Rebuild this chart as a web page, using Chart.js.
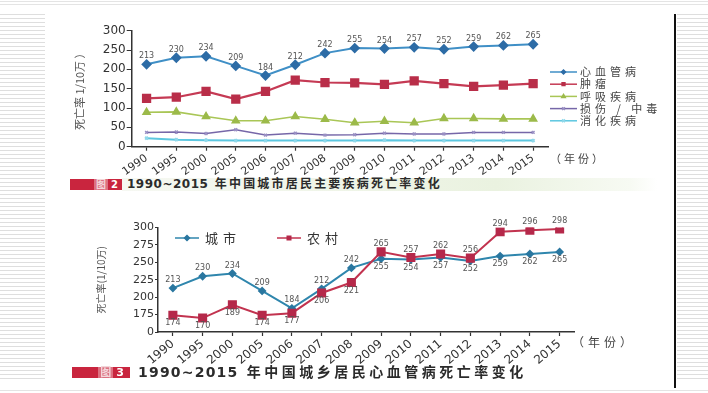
<!DOCTYPE html>
<html>
<head>
<meta charset="utf-8">
<script src="https://cdn.jsdelivr.net/npm/chart.js@4.4.1/dist/chart.umd.min.js"></script>
<style>
html, body { margin: 0; padding: 0; background: #fff; }
body { width: 708px; height: 393px; position: relative; overflow: hidden;
       font-family: "DejaVu Sans", "Noto Sans CJK SC", sans-serif; }
.stripes { position: absolute;
    background: repeating-linear-gradient(to bottom, #dedede 0, #dedede 1px, #fff 1px, #fff 4px); }
.hline { position: absolute; left: 0; width: 708px; height: 1px; background: #e4e4e4; }
.vline { position: absolute; left: 674px; top: 14px; width: 2px; height: 374px; background: #111; }
.box { position: absolute; }
.tag { position: absolute; background: #c9253e; color: #fff; font-weight: bold;
       text-align: right; box-sizing: border-box; }
.tag span.fig { background: rgba(255,255,255,0.35); color: #f3d6da; padding: 0 2px; margin-right: 3px; }
.cap { position: absolute; color: #2b2b2b; font-weight: bold; white-space: nowrap; }
.cap .num { letter-spacing: 0.5px; }
.unit { position: absolute; color: #444; white-space: nowrap; }
</style>
</head>
<body>
<div class="hline" style="top:1px"></div>
<div class="hline" style="top:4px"></div>
<div class="hline" style="top:390px"></div>
<div class="stripes" style="left:0;top:14px;width:45px;height:368px"></div>
<div class="stripes" style="left:677px;top:14px;width:31px;height:368px"></div>
<div class="vline"></div>

<div class="box" style="left:50px;top:20px"><canvas id="topChart" width="620" height="155"></canvas></div>
<div class="box" style="left:50px;top:212px"><canvas id="bottomChart" width="620" height="155"></canvas></div>

<div class="unit" style="left:550px;top:150px;font-size:11px;letter-spacing:3px">（年份）</div>
<div class="unit" style="left:572px;top:333px;font-size:12px;letter-spacing:4px">（年份）</div>

<div class="box" style="left:122px;top:178px;width:535px;height:13px;
     background:linear-gradient(to right,#f6f8f2,#eaf2e0 70%,#f7faf3 95%,#fff)"></div>
<div class="tag" style="left:70px;top:179px;width:52px;height:11px;font-size:10px;line-height:11px;padding-right:4px">
  <span class="fig">图</span>2</div>
<div class="cap" style="left:127px;top:177px;font-size:12px;line-height:15px;letter-spacing:2.2px">
  <span class="num">1990~2015</span> 年中国城市居民主要疾病死亡率变化</div>

<div class="tag" style="left:72px;top:367px;width:58px;height:11px;font-size:11px;line-height:11px;padding-right:6px">
  <span class="fig">图</span>3</div>
<div class="cap" style="left:138px;top:364px;font-size:14px;line-height:17px;letter-spacing:3.5px">
  <span class="num" style="letter-spacing:1.2px">1990~2015</span> 年中国城乡居民心血管病死亡率变化</div>

<script>
const years = ['1990', '1995', '2000', '2005', '2006', '2007', '2008', '2009', '2010', '2011', '2012', '2013', '2014', '2015'];

// fig 2: urban residents, main causes of death (per 100k)
const cardio = [213, 230, 234, 209, 184, 212, 242, 255, 254, 257, 252, 259, 262, 265];
const tumor = [125, 128, 143, 123, 143, 172, 166, 165, 161, 170, 163, 156, 159, 163];
const respiratory = [89, 90, 78, 67, 67, 78, 71, 62, 66, 62, 73, 73, 72, 72];
const injury = [37, 38, 34, 44, 30, 35, 30, 31, 35, 33, 33, 37, 37, 37];
const digestive = [22, 18, 17, 16, 16, 16, 16, 16, 17, 16, 16, 16, 16, 16];
const topTicks = [0, 50, 100, 150, 200, 250, 300];

// fig 3: cardiovascular death rate, urban vs rural
const urbanCardio = [213, 230, 234, 209, 184, 212, 242, 255, 254, 257, 252, 259, 262, 265];
const ruralCardio = [174, 170, 189, 174, 177, 206, 221, 265, 257, 262, 256, 294, 296, 298];
const bottomTicks = [150, 175, 200, 225, 250, 275, 300];

const numFont = '"DejaVu Sans", "Liberation Sans", sans-serif';
const cjkFont = '"Noto Sans CJK SC", "DejaVu Sans", sans-serif';

const pointLabels = {
    id: 'pointLabels',
    afterDatasetsDraw(chart, args, opts) {
        const { ctx } = chart;
        ctx.save();
        ctx.font = opts.font;
        ctx.fillStyle = opts.color;
        ctx.textAlign = 'center';
        opts.datasets.forEach((di) => {
            const values = chart.data.datasets[di].data;
            chart.getDatasetMeta(di).data.forEach((pt, i) => {
                let above = true;
                if (opts.compare) {
                    const other = chart.data.datasets[1 - di].data[i];
                    above = values[i] >= other;
                }
                ctx.textBaseline = above ? 'bottom' : 'top';
                ctx.fillText(String(values[i]), pt.x, above ? pt.y - opts.gap : pt.y + opts.gap);
            });
        });
        ctx.restore();
    },
};

const lineLegend = {
    id: 'lineLegend',
    afterDraw(chart, args, opts) {
        const { ctx } = chart;
        ctx.save();
        ctx.font = opts.font;
        ctx.letterSpacing = opts.letterSpacing;
        ctx.textBaseline = 'middle';
        chart.data.datasets.forEach((ds, i) => {
            const x = opts.x + (opts.dx || 0) * i;
            const y = opts.y + (opts.dy || 0) * i;
            ctx.strokeStyle = ds.borderColor;
            ctx.lineWidth = 1.5;
            ctx.beginPath();
            ctx.moveTo(x, y);
            ctx.lineTo(x + opts.lineLength, y);
            ctx.stroke();
            ctx.fillStyle = ds.pointBackgroundColor || ds.borderColor;
            ctx.strokeStyle = ds.pointBorderColor || ds.borderColor;
            Chart.helpers.drawPoint(ctx, {
                pointStyle: ds.pointStyle,
                radius: opts.markerRadius,
                rotation: 0,
                borderWidth: 1,
            }, x + opts.lineLength / 2, y);
            ctx.fillStyle = opts.color;
            ctx.fillText(ds.label, x + opts.lineLength + opts.textGap, y);
        });
        ctx.restore();
    },
};

function xScale(fontSize, rotation) {
    return {
        offset: true,
        border: { display: true, color: '#333', width: 1.5 },
        grid: { display: true, drawOnChartArea: false, offset: false, tickLength: 4, color: '#333', tickWidth: 1.2 },
        ticks: {
            autoSkip: false,
            minRotation: rotation,
            maxRotation: rotation,
            padding: 1,
            color: '#333',
            font: { family: numFont, size: fontSize },
        },
    };
}

new Chart(document.getElementById('topChart'), {
    type: 'line',
    data: {
        labels: years,
        datasets: [
            { label: '心血管病', data: cardio, borderColor: '#3f8fc6', pointBackgroundColor: '#2d6ca6',
              pointBorderColor: '#2d6ca6', pointStyle: 'rectRot', pointRadius: 4, borderWidth: 2 },
            { label: '肿瘤', data: tumor, borderColor: '#c53a54', pointBackgroundColor: '#b92e49',
              pointBorderColor: '#b92e49', pointStyle: 'rect', pointRadius: 5, borderWidth: 2.2 },
            { label: '呼吸疾病', data: respiratory, borderColor: '#a9c656', pointBackgroundColor: '#9cba4a',
              pointBorderColor: '#9cba4a', pointStyle: 'triangle', pointRadius: 4, borderWidth: 1.6 },
            { label: '损伤 / 中毒', data: injury, borderColor: '#7667a8', pointBackgroundColor: '#7667a8',
              pointBorderColor: '#9a90c4', pointStyle: 'crossRot', pointRadius: 2, borderWidth: 1.5 },
            { label: '消化疾病', data: digestive, borderColor: '#5cc7e0', pointBackgroundColor: '#5cc7e0',
              pointBorderColor: '#8fd8ea', pointStyle: 'crossRot', pointRadius: 2, borderWidth: 2 },
        ],
    },
    options: {
        responsive: false,
        animation: false,
        layout: { padding: { left: 20, top: 10.7, right: 122, bottom: 0 } },
        elements: { line: { tension: 0 } },
        plugins: {
            legend: { display: false },
            tooltip: { enabled: false },
            pointLabels: { datasets: [0], font: `8px ${numFont}`, color: '#555', gap: 4 },
            lineLegend: { x: 500, y: 52, dy: 12.2, lineLength: 27, textGap: 3, markerRadius: 2,
                          font: `11px ${cjkFont}`, letterSpacing: '4px', color: '#444' },
        },
        scales: {
            x: { ...xScale(11, 35), afterFit: (s) => { s.height = 28.3; } },
            y: {
                min: 0,
                max: 300,
                afterBuildTicks: (s) => { s.ticks = topTicks.map((v) => ({ value: v })); },
                afterFit: (s) => { s.width = 61.7; },
                border: { display: true, color: '#333', width: 1.5 },
                grid: { drawOnChartArea: false, tickLength: 5, color: '#333' },
                ticks: { padding: 1, color: '#333', font: { family: numFont, size: 12 } },
                title: { display: true, text: '死亡率 1/10万 ）', color: '#555',
                         padding: { top: 3, bottom: 0 }, font: { family: cjkFont, size: 11 } },
            },
        },
    },
    plugins: [pointLabels, lineLegend],
});

new Chart(document.getElementById('bottomChart'), {
    type: 'line',
    data: {
        labels: years,
        datasets: [
            { label: '城市', data: urbanCardio, borderColor: '#2f86ad', pointBackgroundColor: '#2a77a0',
              pointBorderColor: '#2a77a0', pointStyle: 'rectRot', pointRadius: 3, borderWidth: 2, order: 1 },
            { label: '农村', data: ruralCardio, borderColor: '#c2334f', pointBackgroundColor: '#b5294a',
              pointBorderColor: '#b5294a', pointStyle: 'rect', pointRadius: 5, borderWidth: 2, order: 0 },
        ],
    },
    options: {
        responsive: false,
        animation: false,
        layout: { padding: { left: 42, top: 15.5, right: 95.5, bottom: 0 } },
        elements: { line: { tension: 0 } },
        plugins: {
            legend: { display: false },
            tooltip: { enabled: false },
            pointLabels: { datasets: [0, 1], compare: true, font: `8px ${numFont}`, color: '#555', gap: 4 },
            lineLegend: { x: 125, y: 26, dx: 102, lineLength: 24, textGap: 6, markerRadius: 2.5,
                          font: `13px ${cjkFont}`, letterSpacing: '5px', color: '#333' },
        },
        scales: {
            x: { ...xScale(12, 40), afterFit: (s) => { s.height = 35; } },
            y: {
                min: 150,
                max: 300,
                afterBuildTicks: (s) => { s.ticks = bottomTicks.map((v) => ({ value: v })); },
                afterFit: (s) => { s.width = 66; },
                border: { display: true, color: '#333', width: 1.5 },
                grid: { drawOnChartArea: false, tickLength: 3, color: '#333' },
                ticks: {
                    padding: 1,
                    color: '#333',
                    font: { family: numFont, size: 11 },
                    callback: (v) => (v === 150 ? '0' : v),
                },
                title: { display: true, text: '死亡率(1/10万)', color: '#555',
                         padding: { top: 3, bottom: 0 }, font: { family: cjkFont, size: 10 } },
            },
        },
    },
    plugins: [pointLabels, lineLegend],
});
</script>
</body>
</html>
